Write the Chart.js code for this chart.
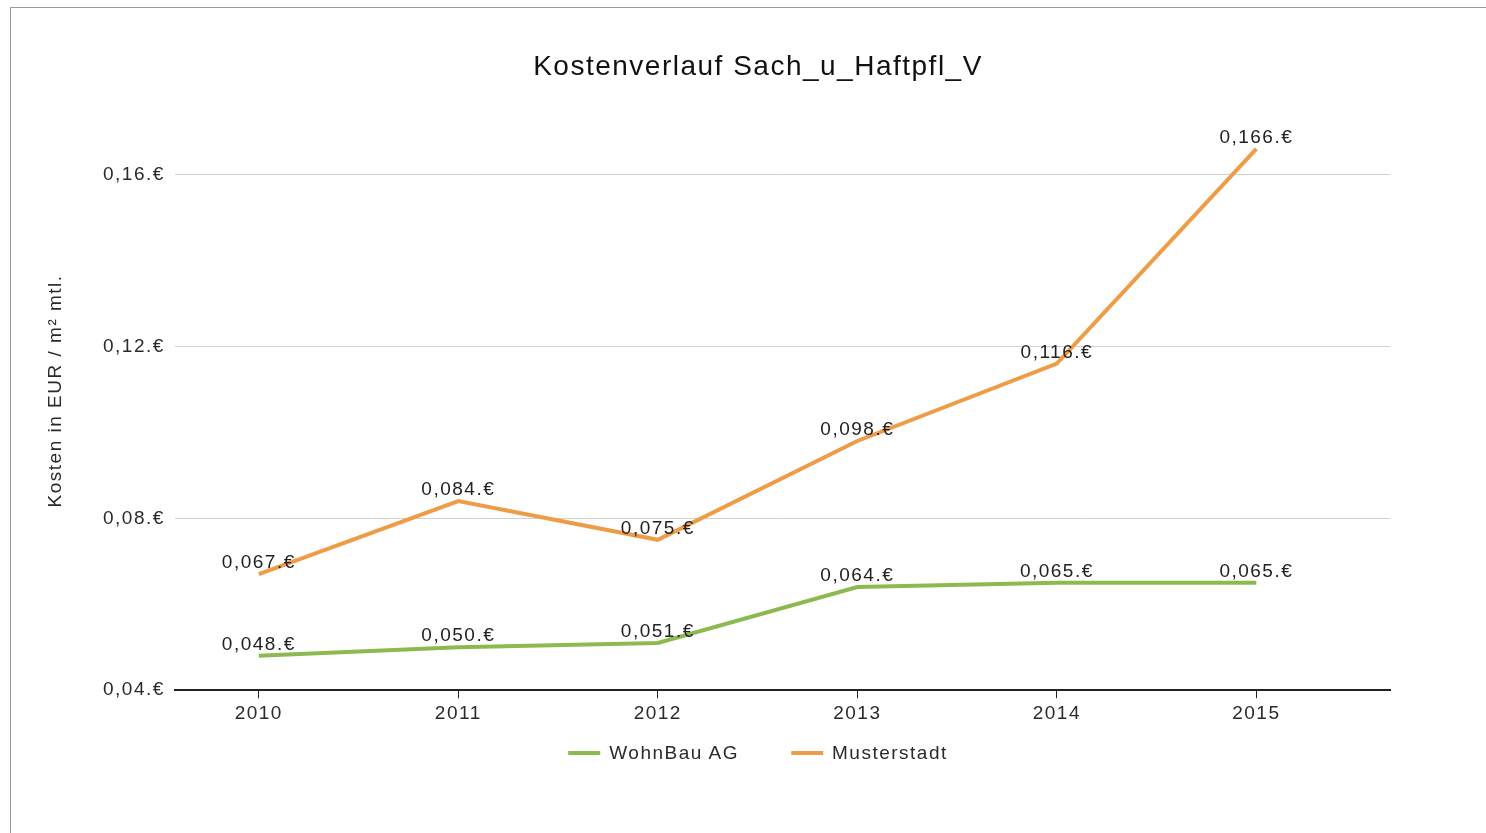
<!DOCTYPE html>
<html lang="de">
<head>
<meta charset="utf-8">
<title>Kostenverlauf Sach_u_Haftpfl_V</title>
<script src="https://cdn.jsdelivr.net/npm/chart.js@4.4.1/dist/chart.umd.min.js"></script>
<style>
  html, body { margin: 0; padding: 0; background: #fff; overflow: hidden; }
  .wrap { position: absolute; left: 0; top: 0; width: 1486px; height: 833px; }
  .frame {
    position: absolute; left: 10px; top: 7px; right: 0; bottom: 0;
    border-top: 1px solid #9c9c9c; border-left: 1px solid #9c9c9c;
    pointer-events: none;
  }
  #legend {
    position: absolute; left: 758px; top: 741px; transform: translateX(-50%);
    display: flex; align-items: center; white-space: nowrap;
    font: 19px "Liberation Sans", Arial, sans-serif; letter-spacing: 1.5px; color: #2a2a2a;
  }
  #legend .item { display: flex; align-items: center; height: 23px; }
  #legend .item + .item { margin-left: 52px; }
  #legend .swatch { width: 32px; height: 4px; margin-right: 9px; }
</style>
</head>
<body>
<div class="wrap"><canvas id="kostenChart"></canvas></div>
<div id="legend"></div>
<div class="frame"></div>
<script>
// Jahreswerte, Kosten in EUR je m² und Monat
const years = [2010, 2011, 2012, 2013, 2014, 2015];
const wohnbau = [0.048, 0.050, 0.051, 0.064, 0.065, 0.065];
const musterstadt = [0.067, 0.084, 0.075, 0.098, 0.116, 0.166];
const yTicks = [0.04, 0.08, 0.12, 0.16];

const FONT = '"Liberation Sans", Arial, sans-serif';
const TEXT = '#2a2a2a';
const euro = (v, digits) => v.toFixed(digits).replace('.', ',') + '.€';

// slightly wider letter spacing for all canvas text
const textSpacing = {
    id: 'textSpacing',
    beforeLayout(chart) { chart.ctx.letterSpacing = '1.5px'; },
    beforeDraw(chart) { chart.ctx.letterSpacing = '1.5px'; }
};

// value above each point
const valueLabels = {
    id: 'valueLabels',
    afterDatasetsDraw(chart) {
        const ctx = chart.ctx;
        ctx.save();
        ctx.font = '19px ' + FONT;
        ctx.fillStyle = '#222';
        ctx.textAlign = 'center';
        ctx.textBaseline = 'middle';
        chart.data.datasets.forEach((ds, i) => {
            chart.getDatasetMeta(i).data.forEach((pt, j) => {
                ctx.fillText(euro(ds.data[j].y, 3), pt.x, pt.y - 11);
            });
        });
        ctx.restore();
    }
};

// rotated y axis caption
const yTitle = {
    id: 'yTitle',
    afterDraw(chart) {
        const { ctx, chartArea } = chart;
        ctx.save();
        ctx.translate(56, (chartArea.top + chartArea.bottom) / 2 - 20);
        ctx.rotate(-Math.PI / 2);
        ctx.font = '19px ' + FONT;
        ctx.fillStyle = TEXT;
        ctx.textAlign = 'center';
        ctx.textBaseline = 'middle';
        ctx.fillText('Kosten in EUR / m² mtl.', 0, 0);
        ctx.restore();
    }
};

// legend as html below the chart
const htmlLegend = {
    id: 'htmlLegend',
    afterUpdate(chart) {
        const box = document.getElementById('legend');
        box.innerHTML = '';
        chart.data.datasets.forEach(ds => {
            const item = document.createElement('span');
            item.className = 'item';
            const swatch = document.createElement('span');
            swatch.className = 'swatch';
            swatch.style.background = ds.borderColor;
            const text = document.createElement('span');
            text.textContent = ds.label;
            item.appendChild(swatch);
            item.appendChild(text);
            box.appendChild(item);
        });
    }
};

const series = (values) => years.map((x, i) => ({ x: x, y: values[i] }));

const ctx = document.getElementById('kostenChart').getContext('2d');
new Chart(ctx, {
    type: 'line',
    data: {
        datasets: [{
            label: 'WohnBau AG',
            data: series(wohnbau),
            borderColor: '#8cba50',
            borderWidth: 4,
            pointRadius: 0,
            tension: 0
        }, {
            label: 'Musterstadt',
            data: series(musterstadt),
            borderColor: '#ee9c48',
            borderWidth: 4,
            pointRadius: 0,
            tension: 0
        }]
    },
    options: {
        responsive: true,
        maintainAspectRatio: false,
        animation: false,
        layout: { padding: { left: 126, right: 96, top: 0, bottom: 104 } },
        plugins: {
            title: {
                display: true,
                text: 'Kostenverlauf Sach_u_Haftpfl_V',
                color: '#111',
                font: { family: FONT, size: 28, weight: 'normal' },
                padding: { top: 50, bottom: 48 }
            },
            legend: { display: false },
            tooltip: { enabled: false }
        },
        scales: {
            x: {
                type: 'linear',
                min: years[0] - 0.42,
                max: years[years.length - 1] + 0.67,
                afterBuildTicks: scale => { scale.ticks = years.map(v => ({ value: v })); },
                grid: { drawOnChartArea: false, drawTicks: true, tickLength: 8, color: '#222' },
                border: { color: '#222', width: 2 },
                ticks: {
                    padding: 4,
                    color: TEXT,
                    font: { family: FONT, size: 19 },
                    callback: v => String(v)
                }
            },
            y: {
                min: 0.04,
                max: 0.17,
                afterBuildTicks: scale => { scale.ticks = yTicks.map(v => ({ value: v })); },
                afterFit: scale => { scale.width = 49; },
                grid: { color: '#d2d2d2', drawTicks: false },
                border: { display: false },
                ticks: {
                    mirror: true,
                    padding: -72,
                    color: TEXT,
                    font: { family: FONT, size: 19 },
                    callback: v => euro(v, 2)
                }
            }
        }
    },
    plugins: [textSpacing, valueLabels, yTitle, htmlLegend]
});
</script>
</body>
</html>
